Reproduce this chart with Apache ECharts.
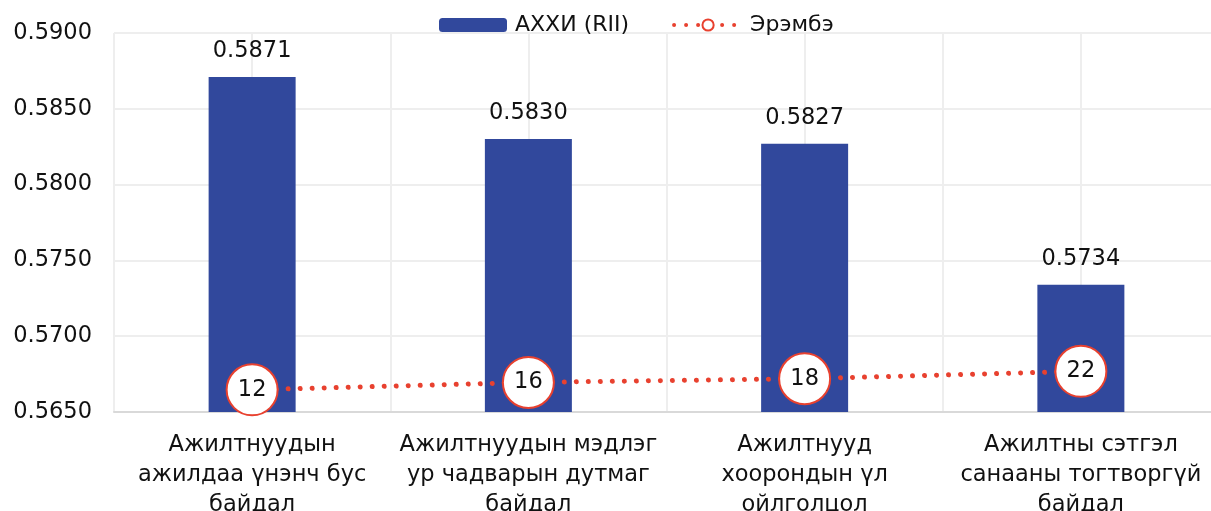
<!DOCTYPE html>
<html>
<head>
<meta charset="utf-8">
<script src="https://cdn.jsdelivr.net/npm/echarts@6/dist/echarts.min.js"></script>
<style>
html,body{margin:0;padding:0;background:#fff;overflow:hidden;}
#main{width:1211px;height:511px;}
</style>
</head>
<body>
<div id="main"></div>
<script>
const categories = [
  "Ажилтнуудын\nажилдаа үнэнч бус\nбайдал",
  "Ажилтнуудын мэдлэг\nур чадварын дутмаг\nбайдал",
  "Ажилтнууд\nхоорондын үл\nойлголцол",
  "Ажилтны сэтгэл\nсанааны тогтворгүй\nбайдал"
];
const riiValues = [0.5871, 0.5830, 0.5827, 0.5734];
const rankValues = [12, 16, 18, 22];
const seriesNames = ["АХХИ (RII)", "Эрэмбэ"];

const FONT = "DejaVu Sans";
const BLUE = "#31489C";
const RED = "#E8412F";

const chart = echarts.init(document.getElementById('main'), null, {renderer: 'canvas'});
chart.setOption({
  animation: false,
  backgroundColor: '#fff',
  textStyle: {fontFamily: FONT},
  legend: {
    top: 14,
    left: 439,
    padding: 0,
    itemGap: 43,
    itemWidth: 68,
    itemHeight: 14,
    textStyle: {fontFamily: FONT, fontSize: 22, color: '#111', padding: [0, 0, 0, 3]},
    data: [
      {name: seriesNames[0]},
      {
        name: seriesNames[1],
        itemStyle: {color: '#fff', borderColor: RED, borderWidth: 2},
        lineStyle: {color: RED, width: 4, type: [0.01, 12], cap: 'round'}
      }
    ]
  },
  grid: {left: 114, right: -8, top: 33, bottom: 99, containLabel: false, outerBoundsMode: 'none'},
  xAxis: [
    {
      type: 'category',
      data: categories,
      axisLine: {show: true, lineStyle: {color: '#d9d9d9', width: 2}},
      axisTick: {show: false},
      splitLine: {show: false},
      axisLabel: {
        interval: 0,
        margin: 18,
        fontFamily: FONT,
        fontSize: 22.5,
        lineHeight: 30,
        color: '#111'
      }
    },
    {
      type: 'value',
      position: 'top',
      min: 0,
      max: 8,
      interval: 1,
      axisLine: {show: false},
      axisTick: {show: false},
      axisLabel: {show: false},
      splitLine: {show: true, lineStyle: {color: '#eeeeee', width: 2}}
    }
  ],
  yAxis: [
    {
      type: 'value',
      min: 0.565,
      max: 0.59,
      interval: 0.005,
      axisLine: {show: false},
      axisTick: {show: false},
      axisLabel: {
        margin: 22,
        fontFamily: FONT,
        fontSize: 22.5,
        color: '#111',
        formatter: v => v.toFixed(4)
      },
      splitLine: {show: true, lineStyle: {color: '#eeeeee', width: 2}}
    },
    {
      type: 'value',
      min: 0,
      max: 205,
      show: false,
      splitLine: {show: false}
    }
  ],
  series: [
    {
      name: seriesNames[0],
      type: 'bar',
      xAxisIndex: 0,
      yAxisIndex: 0,
      data: riiValues,
      barWidth: 87,
      itemStyle: {color: BLUE},
      label: {
        show: true,
        position: 'top',
        distance: 14,
        fontFamily: FONT,
        fontSize: 22.5,
        color: '#111',
        formatter: p => p.value.toFixed(4)
      },
      z: 2
    },
    {
      name: seriesNames[1],
      type: 'line',
      xAxisIndex: 0,
      yAxisIndex: 1,
      data: rankValues,
      symbol: 'circle',
      symbolSize: 51,
      lineStyle: {color: RED, width: 5, type: [0.01, 12], cap: 'round'},
      itemStyle: {color: '#fff', borderColor: RED, borderWidth: 2},
      label: {
        show: true,
        position: 'inside',
        fontFamily: FONT,
        fontSize: 22.5,
        color: '#111'
      },
      z: 5
    }
  ]
});
</script>
</body>
</html>
